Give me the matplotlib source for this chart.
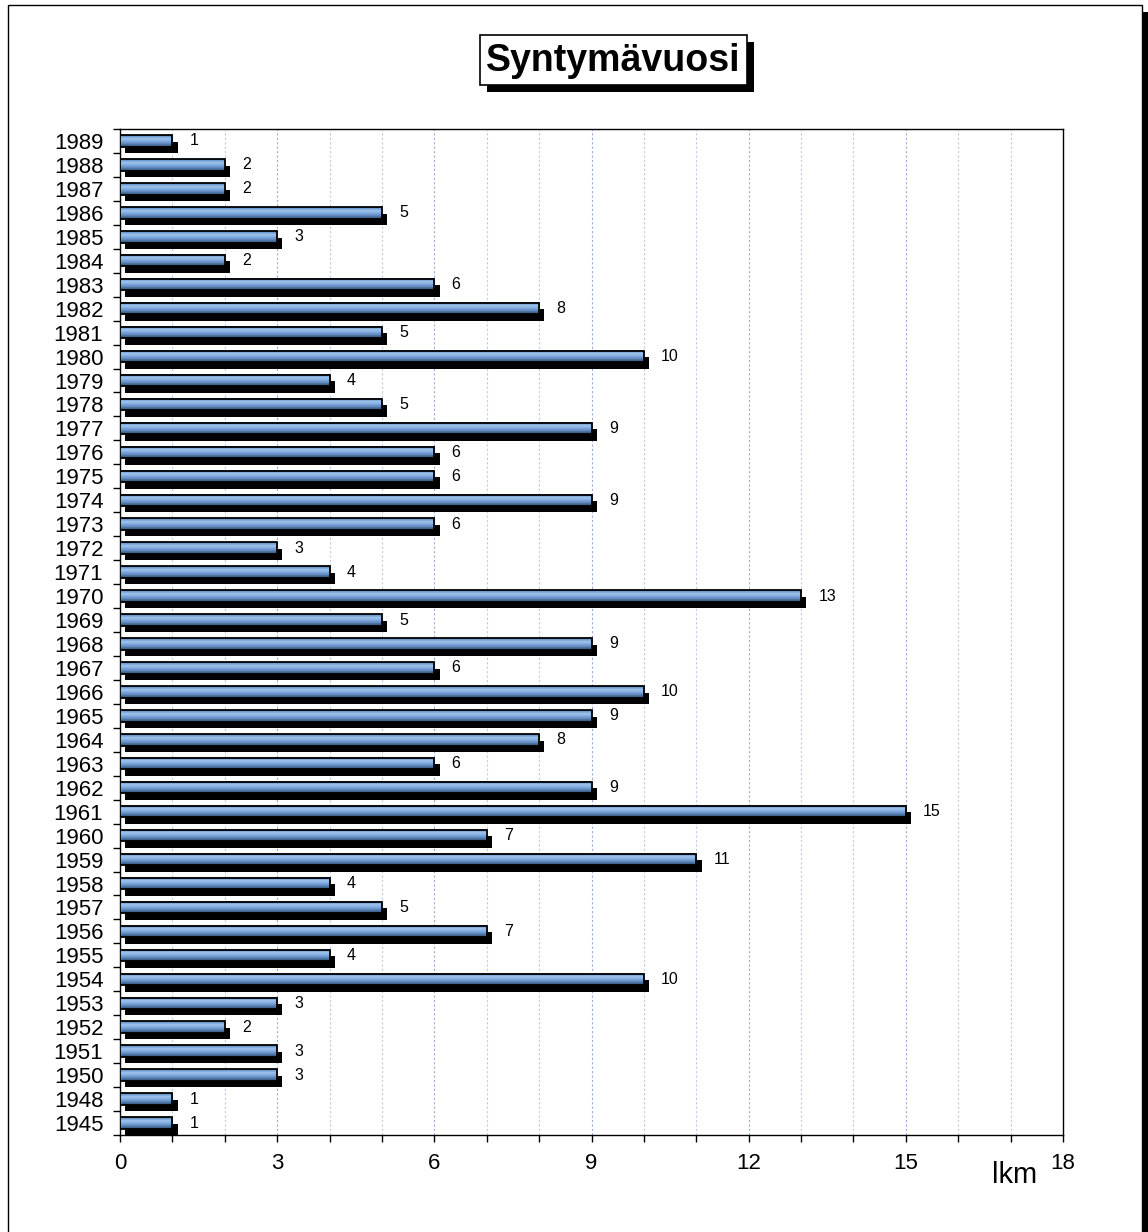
import numpy as np
import matplotlib
matplotlib.use('Agg')
from matplotlib import pyplot as plt
from matplotlib.patches import Rectangle
from matplotlib.colors import LinearSegmentedColormap
from matplotlib.ticker import MultipleLocator

plt.rcParams['font.family'] = ['Liberation Sans', 'DejaVu Sans']

# Data (top to bottom as in the chart)
years = ['1989', '1988', '1987', '1986', '1985', '1984', '1983', '1982', '1981', '1980',
         '1979', '1978', '1977', '1976', '1975', '1974', '1973', '1972', '1971', '1970',
         '1969', '1968', '1967', '1966', '1965', '1964', '1963', '1962', '1961', '1960',
         '1959', '1958', '1957', '1956', '1955', '1954', '1953', '1952', '1951', '1950',
         '1948', '1945']
counts = [1, 2, 2, 5, 3, 2, 6, 8, 5, 10,
          4, 5, 9, 6, 6, 9, 6, 3, 4, 13,
          5, 9, 6, 10, 9, 8, 6, 9, 15, 7,
          11, 4, 5, 7, 4, 10, 3, 2, 3, 3,
          1, 1]
title = 'Syntymävuosi'
xlabel = 'lkm'

W, H = 1148, 1232
fig = plt.figure(figsize=(W / 100, H / 100), dpi=100)

# outer frame + shadow on the right
fig.patches.append(Rectangle((1142 / W, 0), 6 / W, 1 - 12 / H, transform=fig.transFigure,
                             facecolor='black', edgecolor='none', zorder=0))
fig.patches.append(Rectangle((8 / W, -0.01), 1134 / W, 1.01 - 5 / H, transform=fig.transFigure,
                             facecolor='white', edgecolor='black', lw=1.0, zorder=1))

ax = fig.add_axes([120 / W, 97 / H, 943 / W, 1006 / H])
ax.set_zorder(2)

n = len(years)
ypos = np.arange(n)
bh = 0.48
dy = 0.27

grad = LinearSegmentedColormap.from_list('bar', [(0, '#5580b8'), (0.3, '#9fc5ee'),
                                                 (0.6, '#729fd5'), (1.0, '#304c74')])
gimg = np.linspace(0, 1, 32).reshape(-1, 1)

# shadows
ax.barh(ypos + dy, counts, height=bh, left=0.1, color='black', zorder=2)
# gradient fill
for y, v in zip(ypos, counts):
    ax.imshow(gimg, cmap=grad, aspect='auto', extent=(0, v, y + bh / 2, y - bh / 2),
              interpolation='bilinear', zorder=3)
# outlines
ax.barh(ypos, counts, height=bh, facecolor='none', edgecolor='black', lw=1.3, zorder=4)

for y, v in zip(ypos, counts):
    ax.text(v + 0.33, y, str(v), fontsize=11.5, va='center', ha='left', zorder=5)

ax.set_xlim(0, 18)
ax.set_ylim(n - 0.5, -0.5)

ax.xaxis.set_major_locator(MultipleLocator(3))
ax.xaxis.set_minor_locator(MultipleLocator(1))
ax.set_xticklabels([])
for v in range(0, 19, 3):
    ax.text(v, -0.018, str(v), transform=ax.get_xaxis_transform(), fontsize=16,
            ha='center', va='top')
ax.tick_params(axis='x', which='both', direction='out', length=5, width=1)

ax.set_yticks(ypos)
ax.set_yticklabels(years, fontsize=16)
ax.set_yticks(np.arange(n + 1) - 0.5, minor=True)
ax.tick_params(axis='y', which='major', length=0, pad=12)
ax.tick_params(axis='y', which='minor', direction='out', length=5, width=1)

# gridlines: slightly darker at multiples of 3
for v in range(1, 18):
    c = '#9aaedd' if v % 3 == 0 else '#bccaee'
    ax.axvline(v, color=c, lw=0.8, ls=(0, (2, 2)), zorder=1)

for s in ax.spines.values():
    s.set_linewidth(1.0)

fig.text(1015 / W, 1 - 1175 / H, xlabel, fontsize=21, ha='center', va='center', zorder=5)

# title box with shadow
bx, by, bw, bhh = 480, 35, 267, 50
fig.patches.append(Rectangle(((bx + 7) / W, 1 - (by + bhh + 7) / H), bw / W, bhh / H,
                             transform=fig.transFigure, facecolor='black', zorder=3))
fig.patches.append(Rectangle((bx / W, 1 - (by + bhh) / H), bw / W, bhh / H,
                             transform=fig.transFigure, facecolor='white', edgecolor='black',
                             lw=1.2, zorder=4))
fig.text((bx + bw / 2) / W, 1 - (by + bhh / 2 + 1) / H, title, fontsize=27, weight='bold',
         ha='center', va='center', zorder=5)

fig.savefig('out.png', dpi=100)
